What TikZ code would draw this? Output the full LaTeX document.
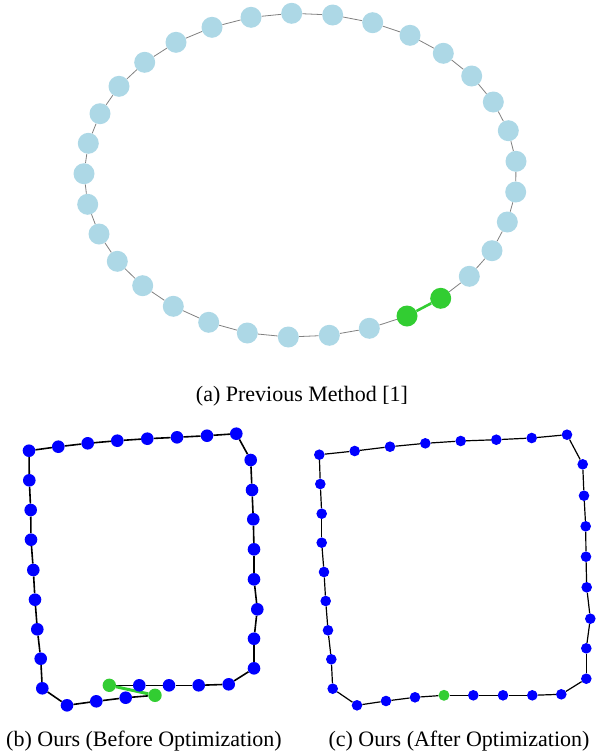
\documentclass[tikz,border=0pt]{standalone}
\usepackage{fontspec}
\setmainfont{Liberation Serif}
\usetikzlibrary{backgrounds}
\definecolor{lblue}{HTML}{ADD8E6}
\definecolor{lgreen}{HTML}{32CD32}
\definecolor{pblue}{HTML}{0000FF}
\definecolor{egray}{HTML}{808080}
\begin{document}
\begin{tikzpicture}[x=1pt,y=-1pt,
  an/.style={circle,fill=lblue,inner sep=0pt,minimum size=21pt},
  ag/.style={circle,fill=lgreen,inner sep=0pt,minimum size=21pt},
  bn/.style={circle,fill=pblue,inner sep=0pt,minimum size=12.6pt},
  bg/.style={circle,fill=lgreen,inner sep=0pt,minimum size=13.4pt},
  cn/.style={circle,fill=pblue,inner sep=0pt,minimum size=10.6pt},
  cg/.style={circle,fill=lgreen,inner sep=0pt,minimum size=11pt},
  aedge/.style={draw=egray,line width=0.8pt},
  agedge/.style={draw=lgreen,line width=2.6pt},
  bedge/.style={draw=black,line width=1.6pt},
  bgedge/.style={draw=lgreen,line width=3pt},
  cedge/.style={draw=black,line width=1.2pt},
  captext/.style={anchor=base,font=\fontsize{22}{26}\selectfont,inner sep=0pt}]
\useasboundingbox (0,0) rectangle (604,753);
% panel (a)
\foreach \x/\y/\s [count=\i] in {291.7/13.3/an,332.7/15/an,372.7/22.7/an,410/35.3/an,443.3/53.3/an,471.7/76/an,493.3/102/an,508.3/130.7/an,516/161.3/an,515.7/192/an,507.3/222/an,492/250.7/an,469.3/276.3/an,440.7/298.3/ag,407/316/ag,369.3/328.3/an,329.3/335.3/an,288.3/337/an,247.3/333/an,208.7/322.3/an,173.3/306.3/an,142.7/285.7/an,117.3/261.3/an,99/234/an,87.7/204.3/an,84/173.7/an,88.3/143.3/an,100/113.7/an,119/86.3/an,144.7/62.3/an,176/42.3/an,212/27.3/an,251/17.3/an}
  {\node[\s] (a\i) at (\x,\y) {};}
% panel (b)
\foreach \x/\y/\s [count=\i] in {29/450.7/bn,58.3/446.7/bn,87.7/443.3/bn,117.3/440.7/bn,147.3/438.7/bn,177/437.3/bn,207/435.7/bn,236.3/433.7/bn,250.7/460/bn,252/490/bn,253.3/519.3/bn,254/549.3/bn,254/579.3/bn,257.3/609.3/bn,254/638.7/bn,254/668.3/bn,228.7/684.3/bn,198.7/685.3/bn,169/685.3/bn,139.3/685.3/bn,109.3/685.3/bg,155/695.3/bg,125.7/697.7/bn,96.3/701.3/bn,67/705.3/bn,42.3/688.3/bn,40.7/658.7/bn,37.3/629.3/bn,35/599.7/bn,33.3/570/bn,31/539.7/bn,30.7/510/bn,29.3/480.3/bn}
  {\node[\s] (b\i) at (\x,\y) {};}
% panel (c)
\foreach \x/\y/\s [count=\i] in {319.3/454.7/cn,354.7/451/cn,390/446.7/cn,425.3/443.3/cn,460.7/441/cn,496.3/439.7/cn,531.7/438/cn,567/434.7/cn,582.7/464.3/cn,584/495.7/cn,585.7/526.3/cn,586/556.7/cn,586.7/587.3/cn,590.3/618.7/cn,586.3/648.3/cn,586.3/678.7/cn,561.3/694.3/cn,532.3/695.3/cn,503/695.3/cn,473.3/695.3/cn,444/695.3/cg,415/697.3/cn,386/701/cn,357/705.3/cn,332.7/688.7/cn,331.3/659.3/cn,328/630.3/cn,325.7/601/cn,324/572/cn,321.7/542.7/cn,321.7/513.7/cn,320.3/484/cn}
  {\node[\s] (c\i) at (\x,\y) {};}
\begin{scope}[on background layer]
  \foreach \i [remember=\i as \j (initially 33)] in {1,...,33}
    {\ifnum\i=15\else\path[aedge] (a\j) -- (a\i);\fi}
  \path[agedge] (a14) -- (a15);
  \foreach \i [remember=\i as \j (initially 33)] in {1,...,33}
    {\ifnum\i=22\else\path[bedge] (b\j) -- (b\i);\fi}
  \path[bgedge] (b21) -- (b22);
  \foreach \i [remember=\i as \j (initially 32)] in {1,...,32}
    {\path[cedge] (c\j) -- (c\i);}
\end{scope}
% captions
\node[captext] (capa) at (302,401) {(a) Previous Method [1]};
\node[captext] (capb) at (144,746) {(b) Ours (Before Optimization)};
\node[captext] (capc) at (459,746) {(c) Ours (After Optimization)};
\end{tikzpicture}
\end{document}
